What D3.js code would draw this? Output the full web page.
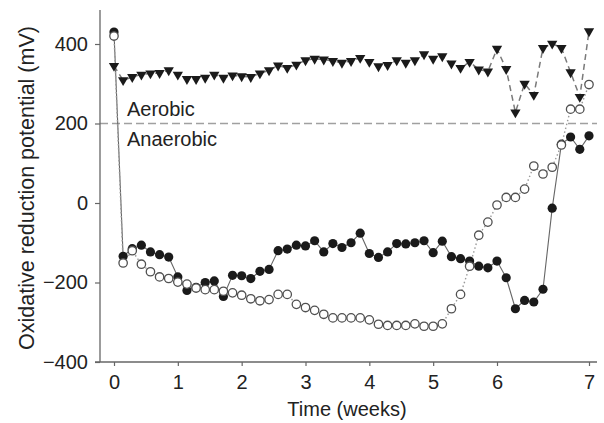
<!DOCTYPE html>
<html>
<head>
<meta charset="utf-8">
<script src="https://cdn.jsdelivr.net/npm/d3@7"></script>
<style>
  html, body { margin: 0; padding: 0; background: #fff; }
  svg { display: block; font-family: Arial, "Liberation Sans", sans-serif; }
</style>
</head>
<body>
<svg id="chart" width="604" height="423"></svg>
<script>
// Time points (weeks)
const timeWeeks = [
  0, 0.143, 0.286, 0.429, 0.571, 0.714, 0.857,
  1, 1.143, 1.286, 1.429, 1.571, 1.714, 1.857,
  2, 2.143, 2.286, 2.429, 2.571, 2.714, 2.857,
  3, 3.143, 3.286, 3.429, 3.571, 3.714, 3.857,
  4, 4.143, 4.286, 4.429, 4.571, 4.714, 4.857,
  5, 5.143, 5.286, 5.429, 5.571, 5.714, 5.857,
  6, 6.1, 6.2, 6.3, 6.4, 6.5, 6.6, 6.7, 6.8, 6.9, 7.0
];
// Triangle series (dashed)
const triangleSeries = [
  345, 309, 317, 323, 326, 327, 334, 323, 312, 312, 315, 323, 315, 321,
  319, 317, 326, 334, 346, 340, 348, 359, 363, 361, 357, 353, 357, 365,
  355, 344, 347, 359, 353, 359, 374, 363, 369, 351, 340, 355, 336, 331,
  388, 337, 228, 300, 272, 390, 401, 390, 329, 267, 432
];
// Filled circle series (solid)
const filledSeries = [
  430, -134, -115, -106, -123, -130, -136, -186, -220, -212, -200, -196, -235, -182,
  -183, -190, -172, -167, -120, -116, -106, -108, -95, -123, -102, -112, -100, -76,
  -127, -137, -123, -102, -103, -100, -95, -125, -96, -135, -140, -146, -159, -163,
  -146, -188, -266, -245, -249, -217, -13, 148, 166, 135, 169
];
// Open circle series (dotted)
const openSeries = [
  420, -151, -120, -154, -173, -186, -190, -199, -204, -214, -218, -218, -222, -226,
  -232, -241, -246, -243, -230, -230, -255, -263, -270, -280, -289, -289, -289, -289,
  -294, -305, -308, -308, -308, -304, -310, -310, -304, -266, -230, -159, -81, -48,
  -5, 14, 14, 35, 93, 73, 90, 146, 236, 236, 298
];
const xTicks = [0, 1, 2, 3, 4, 5, 6, 7];
const yTicks = [-400, -200, 0, 200, 400];
const thresholdValue = 200;
const labels = { above: "Aerobic", below: "Anaerobic", x: "Time (weeks)", y: "Oxidative reduction potential (mV)" };

const svg = d3.select("#chart");
const x = d3.scaleLinear().domain([0, 6, 7]).range([114, 497, 589]);
const y = d3.scaleLinear().domain([-400, 400]).range([362, 44]);
const axisColor = "#666";
const textColor = "#222";
const fontSize = 20;

// Threshold dashed line
svg.append("line")
  .attr("x1", 100).attr("x2", 597)
  .attr("y1", y(thresholdValue)).attr("y2", y(thresholdValue))
  .attr("stroke", "#a0a0a0").attr("stroke-width", 1.3)
  .attr("stroke-dasharray", "8,4");

svg.append("text").attr("x", 127).attr("y", 116)
  .attr("font-size", fontSize).attr("fill", textColor).text(labels.above);
svg.append("text").attr("x", 127).attr("y", 146)
  .attr("font-size", fontSize).attr("fill", textColor).text(labels.below);

// Axes
const gx = svg.append("g").attr("transform", `translate(0,${y(-400)})`)
  .call(d3.axisBottom(x).tickValues(xTicks).tickSize(4).tickFormat(d3.format("d")));
gx.select(".domain").remove();
gx.selectAll(".tick line").attr("stroke", axisColor).attr("stroke-width", 1.2);
gx.selectAll(".tick text").attr("font-size", fontSize).attr("fill", textColor)
  .attr("y", 13).attr("font-family", "Arial, 'Liberation Sans', sans-serif");

const gy = svg.append("g").attr("transform", "translate(100,0)")
  .call(d3.axisLeft(y).tickValues(yTicks).tickSize(5).tickPadding(7));
gy.select(".domain").remove();
gy.selectAll(".tick line").attr("stroke", axisColor).attr("stroke-width", 1.2);
gy.selectAll(".tick text").attr("font-size", fontSize).attr("fill", textColor)
  .attr("font-family", "Arial, 'Liberation Sans', sans-serif");

svg.append("line").attr("x1", 95).attr("x2", 597)
  .attr("y1", y(-400)).attr("y2", y(-400))
  .attr("stroke", axisColor).attr("stroke-width", 1.3);
svg.append("line").attr("x1", 100).attr("x2", 100)
  .attr("y1", 10).attr("y2", y(-400))
  .attr("stroke", axisColor).attr("stroke-width", 1.3);

svg.append("text")
  .attr("transform", `translate(34,${(10 + y(-400)) / 2 + 2}) rotate(-90)`)
  .attr("text-anchor", "middle").attr("font-size", 21.5).attr("fill", textColor)
  .text(labels.y);
svg.append("text")
  .attr("x", 347).attr("y", 416)
  .attr("text-anchor", "middle").attr("font-size", fontSize).attr("fill", textColor)
  .text(labels.x);

const line = vals => d3.line().x((d, i) => x(timeWeeks[i])).y(d => y(d))(vals);

// Series lines
svg.append("path").attr("d", line(triangleSeries))
  .attr("fill", "none").attr("stroke", "#7a7a7a").attr("stroke-width", 1.5)
  .attr("stroke-dasharray", "6,4");
svg.append("path").attr("d", line(filledSeries))
  .attr("fill", "none").attr("stroke", "#666").attr("stroke-width", 1.1);
svg.append("path").attr("d", line(openSeries))
  .attr("fill", "none").attr("stroke", "#9a9a9a").attr("stroke-width", 1.4)
  .attr("stroke-dasharray", "1.5,2.5");

// Triangle markers
const tri = d3.symbol().type(d3.symbolTriangle).size(46);
svg.append("g").selectAll("path").data(triangleSeries).join("path")
  .attr("d", tri)
  .attr("transform", (d, i) => `translate(${x(timeWeeks[i])},${y(d)}) rotate(180)`)
  .attr("fill", "#1a1a1a");

// Filled circles
svg.append("g").selectAll("circle").data(filledSeries).join("circle")
  .attr("cx", (d, i) => x(timeWeeks[i])).attr("cy", d => y(d))
  .attr("r", 4.6).attr("fill", "#1a1a1a");

// Open circles
svg.append("g").selectAll("circle").data(openSeries).join("circle")
  .attr("cx", (d, i) => x(timeWeeks[i])).attr("cy", d => y(d))
  .attr("r", 4.2).attr("fill", "#fff").attr("stroke", "#505050").attr("stroke-width", 1.3);
</script>
</body>
</html>
